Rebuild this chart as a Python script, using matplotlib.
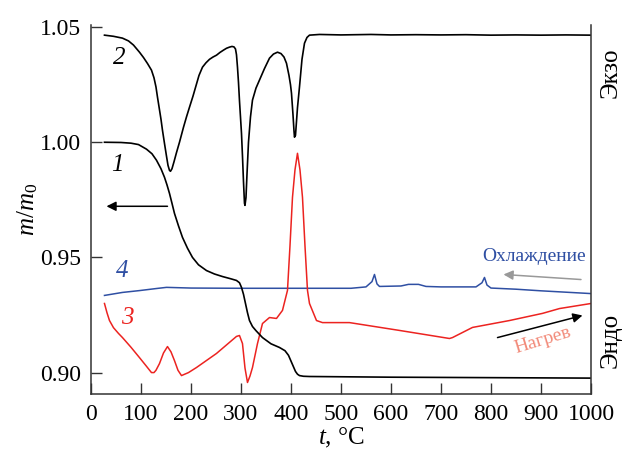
import matplotlib
matplotlib.use("Agg")
import matplotlib.pyplot as plt

plt.rcParams['font.family'] = ['Liberation Serif', 'DejaVu Serif']
plt.rcParams['mathtext.fontset'] = 'custom'
plt.rcParams['mathtext.it'] = 'Liberation Serif:italic'
plt.rcParams['mathtext.rm'] = 'Liberation Serif'

# Curve 1 (TG, m/m0)
t1 = [27, 60, 80, 95, 111, 122, 131, 140, 147, 152, 157, 162, 167, 175, 183, 193, 203,
      215, 231, 247, 263, 280, 291, 297, 301, 305, 309, 313, 317, 323, 330, 343, 360,
      377, 388, 395, 400, 404, 409, 413, 417, 425, 437, 600, 800, 1000]
m1 = [1.000, 0.9999, 0.9996, 0.9990, 0.9970, 0.9950, 0.9922, 0.9885, 0.9848, 0.9815,
      0.9778, 0.9735, 0.9691, 0.9637, 0.9587, 0.9540, 0.9500, 0.9468, 0.9443, 0.9428,
      0.9417, 0.9407, 0.9400, 0.9390, 0.9370, 0.9340, 0.9300, 0.9260, 0.9226, 0.9200,
      0.9182, 0.9152, 0.9125, 0.9109, 0.9095, 0.9075, 0.9050, 0.9030, 0.9005, 0.8993,
      0.8987, 0.8984, 0.8983, 0.8980, 0.8978, 0.8976]

# Curve 2 (DTA, heating)
t2 = [27, 45, 63, 75, 85, 97, 105, 113, 121, 126, 130, 133, 136, 140, 143, 147, 151,
      154, 157, 159, 162, 166, 171, 177, 185, 191, 197, 204, 210, 216, 223, 230, 237,
      244, 251, 258, 265, 271, 277, 282, 286, 289, 291, 293, 295, 297, 299, 301, 303,
      305, 307, 308, 310, 312, 315, 319, 323, 330, 337, 347, 357, 365, 373, 380, 386,
      391, 396, 399, 401, 404, 406, 407, 409, 411, 413, 417, 422, 427, 432, 437, 457,
      500, 560, 600, 650, 700, 750, 800, 850, 900, 950, 1000]
d2 = [1.0465, 1.0460, 1.0452, 1.0440, 1.0422, 1.0391, 1.0368, 1.0342, 1.0313, 1.0280,
      1.0240, 1.0196, 1.0155, 1.0100, 1.0052, 0.9995, 0.9940, 0.9900, 0.9878, 0.9874,
      0.9885, 0.9915, 0.9955, 1.0000, 1.0065, 1.0110, 1.0152, 1.0200, 1.0245, 1.0290,
      1.0326, 1.0345, 1.0360, 1.0370, 1.0378, 1.0390, 1.0400, 1.0408, 1.0413, 1.0416,
      1.0414, 1.0405, 1.0380, 1.0326, 1.0260, 1.0180, 1.0110, 1.0039, 0.9940, 0.9830,
      0.9735, 0.9726, 0.9760, 0.9860, 1.0000, 1.0110, 1.0183, 1.0235, 1.0270, 1.0320,
      1.0365, 1.0383, 1.0391, 1.0385, 1.0370, 1.0343, 1.0290, 1.0250, 1.0213, 1.0120,
      1.0050, 1.0022, 1.0030, 1.0090, 1.0150, 1.0240, 1.0360, 1.0430, 1.0455, 1.0465,
      1.0468, 1.0466, 1.0468, 1.0466, 1.0467, 1.0466, 1.0467, 1.0465, 1.0466, 1.0465,
      1.0466, 1.0465]

# Curve 3 (heating, red)
t3 = [27, 32, 37, 45, 55, 63, 80, 97, 110, 121, 126, 130, 137, 145, 153, 160, 167, 174,
      181, 195, 211, 251, 291, 297, 303, 308, 313, 318, 323, 333, 343, 357, 371, 383,
      393, 398, 403, 408, 413, 418, 423, 428, 433, 437, 451, 463, 517, 617, 717, 723,
      763, 837, 903, 937, 1000]
d3 = [0.9300, 0.9260, 0.9226, 0.9195, 0.9170, 0.9152, 0.9110, 0.9065, 0.9030, 0.9000,
      0.9000, 0.9010, 0.9039, 0.9085, 0.9113, 0.9090, 0.9052, 0.9010, 0.8987, 0.9000,
      0.9022, 0.9083, 0.9157, 0.9161, 0.9126, 0.9020, 0.8957, 0.8985, 0.9022, 0.9126,
      0.9213, 0.9239, 0.9235, 0.9270, 0.9357, 0.9550, 0.9761, 0.9880, 0.9952, 0.9880,
      0.9761, 0.9550, 0.9357, 0.9300, 0.9226, 0.9217, 0.9217, 0.9183, 0.9148, 0.9152,
      0.9196, 0.9226, 0.9257, 0.9278, 0.9300]

# Curve 4 (cooling, blue)
t4 = [27, 63, 97, 131, 151, 200, 300, 400, 520, 550, 562, 567, 572, 577, 620, 635, 655,
      670, 700, 770, 782, 787, 792, 800, 850, 900, 950, 1000]
d4 = [0.9335, 0.9348, 0.9356, 0.9365, 0.9370, 0.9367, 0.9366, 0.9366, 0.9366, 0.9372,
      0.9395, 0.9426, 0.9385, 0.9374, 0.9376, 0.9383, 0.9383, 0.9374, 0.9372, 0.9372,
      0.9390, 0.9413, 0.9380, 0.9367, 0.9362, 0.9355, 0.9349, 0.9343]

xticks = [0, 100, 200, 300, 400, 500, 600, 700, 800, 900, 1000]
yticks = [0.90, 0.95, 1.00, 1.05]

fig = plt.figure(figsize=(6.24, 4.59), dpi=100)
ax = fig.add_axes([0.1458, 0.1416, 0.8013, 0.8039])

blue = '#2f4fa3'
red = '#ec2320'
ax.plot(t4, d4, color=blue, lw=1.1)
ax.plot(t3, d3, color=red, lw=1.1)
ax.plot(t1, m1, color='black', lw=1.2)
ax.plot(t2, d2, color='black', lw=1.2)

ax.set_xlim(0, 1000)
ax.set_ylim(0.8907, 1.0509)
ax.set_xticks(xticks)
ax.set_yticks(yticks)
ax.set_yticklabels([f"{v:.2f}" for v in yticks])
ax.tick_params(direction='in', length=8, width=1.0, labelsize=17, pad=7, color='#333333')
for s in ['left', 'bottom', 'right']:
    ax.spines[s].set_color('#333333')
    ax.spines[s].set_linewidth(1.1)
ax.spines['top'].set_visible(False)

ax.set_xlabel('$t$, °C', fontsize=18, labelpad=1)
ax.set_ylabel('$m/m_0$', fontsize=18, labelpad=0)

# curve numbers
ax.text(57, 1.0365, '2', fontsize=18, style='italic', ha='center', va='center')
ax.text(53, 0.990, '1', fontsize=18, style='italic', ha='center', va='center')
ax.text(63, 0.9443, '4', fontsize=18, style='italic', ha='center', va='center', color=blue)
ax.text(73, 0.9235, '3', fontsize=18, style='italic', ha='center', va='center', color=red)

# arrows
ax.annotate('', xy=(31, 0.9722), xytext=(153, 0.9722),
            arrowprops=dict(arrowstyle='-|>', color='black', lw=1.1, mutation_scale=14,
                            shrinkA=0, shrinkB=0))
ax.annotate('', xy=(825, 0.9426), xytext=(980, 0.9404),
            arrowprops=dict(arrowstyle='-|>', color='#999999', lw=1.1, mutation_scale=14,
                            shrinkA=0, shrinkB=0))
ax.annotate('', xy=(983, 0.9248), xytext=(813, 0.9152),
            arrowprops=dict(arrowstyle='-|>', color='black', lw=1.1, mutation_scale=14,
                            shrinkA=0, shrinkB=0))

ax.text(887, 0.9504, 'Охлаждение', fontsize=14, color=blue, ha='center', va='center')
ax.text(903, 0.9139, 'Нагрев', fontsize=14, color='#f28b7a', ha='center', va='center',
        rotation=17, rotation_mode='anchor')

ax.text(1.04, 0.870, 'Экзо', transform=ax.transAxes, fontsize=18, rotation=90,
        ha='center', va='center')
ax.text(1.04, 0.146, 'Эндо', transform=ax.transAxes, fontsize=18, rotation=90,
        ha='center', va='center')

fig.savefig('out.png', dpi=100)
